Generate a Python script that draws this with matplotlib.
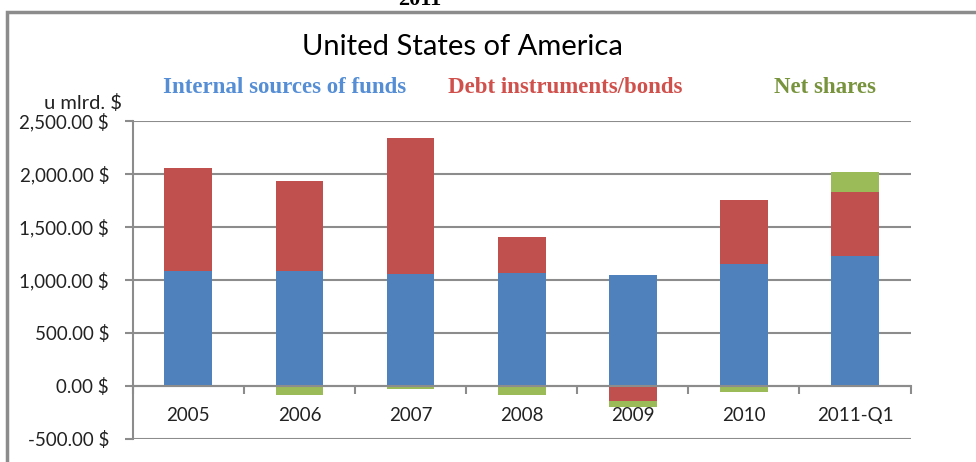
import numpy as np
import matplotlib.pyplot as plt
from matplotlib.patches import Rectangle

years = ['2005', '2006', '2007', '2008', '2009', '2010', '2011-Q1']
internal = [1085, 1085, 1060, 1066, 1047, 1154, 1223]
debt = [972, 845, 1280, 337, -142, 601, 610]
shares = [-10, -88, -31, -82, -53, -53, 186]

series = [('Internal sources of funds', internal, '#4F81BD', '#558ED5'),
          ('Debt instruments/bonds', debt, '#C0504D', '#D0504C'),
          ('Net shares', shares, '#9BBB59', '#77933C')]

fig = plt.figure(figsize=(9.76, 4.62), dpi=100)
ax = fig.add_axes([0.136, 0.05, 0.797, 0.688])

x = np.arange(len(years))
pos = np.zeros(len(years))
neg = np.zeros(len(years))
for name, vals, col, _ in series:
    v = np.array(vals, dtype=float)
    bottom = np.where(v >= 0, pos, neg)
    ax.bar(x, v, width=0.43, bottom=bottom, color=col, zorder=3)
    pos = pos + np.where(v >= 0, v, 0)
    neg = neg + np.where(v < 0, v, 0)

ax.set_xlim(-0.5, 6.5)
ax.set_ylim(-500, 2500)
ax.set_yticks(np.arange(-500, 2501, 500))
ax.set_yticklabels(['{:,.2f} $'.format(t) for t in np.arange(-500, 2501, 500)],
                   fontsize=13.5, family='Lato', color='#222222')
ax.grid(axis='y', color='#8c8c8c', linewidth=1.5, zorder=0)

ax.spines['top'].set_visible(False)
ax.spines['right'].set_visible(False)
ax.spines['left'].set_color('#8c8c8c')
ax.spines['left'].set_linewidth(1.5)
ax.spines['bottom'].set_position(('data', 0))
ax.spines['bottom'].set_color('#8c8c8c')
ax.spines['bottom'].set_linewidth(1.5)
ax.spines['bottom'].set_zorder(4)

ax.set_xticks(x)
ax.set_xticklabels(years, fontsize=13.5, family='Lato', color='#222222')
ax.tick_params(axis='x', which='major', length=0, pad=15)
ax.set_xticks(np.arange(-0.5, 7, 1), minor=True)
ax.tick_params(axis='x', which='minor', length=6, width=1.5, color='#8c8c8c')
ax.tick_params(axis='y', length=6, width=1.5, color='#8c8c8c', pad=11)

fig.text(0.474, 0.898, 'United States of America', ha='center', va='center',
         fontsize=21, family='Lato')
lx = [0.292, 0.579, 0.845]
for (name, vals, col, tcol), px in zip(series, lx):
    fig.text(px, 0.81, name, ha='center', va='center', fontsize=16.5,
             family='Liberation Serif', weight='bold', color=tcol)
fig.text(0.085, 0.778, 'u mlrd. $', ha='center', va='center', fontsize=14.5,
         family='Lato', color='#222222')
fig.text(0.43, 1.0, '2011', ha='center', va='center', fontsize=16,
         family='Liberation Serif', weight='bold')

fig.patches.append(Rectangle((0.007, -0.01), 1.02, 0.984, transform=fig.transFigure,
                             fill=False, edgecolor='#8c8c8c', linewidth=2.5))

fig.savefig('out.png', dpi=100)
